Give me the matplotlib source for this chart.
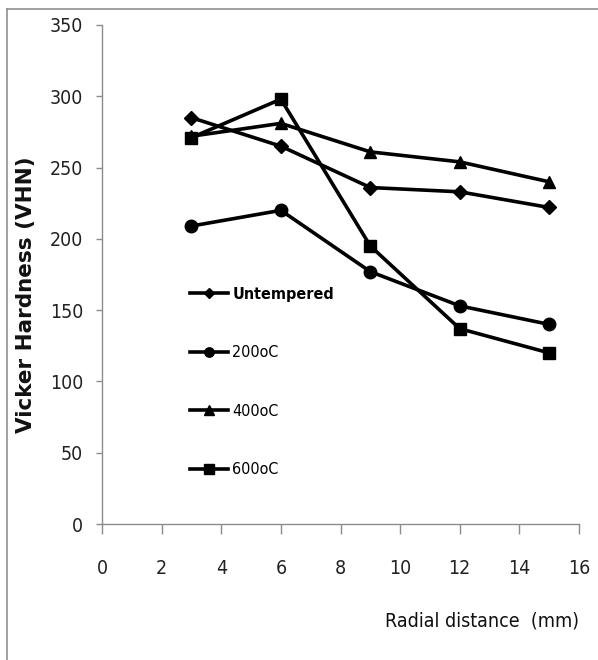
import matplotlib
matplotlib.use("Agg")
import matplotlib.pyplot as plt
from matplotlib.lines import Line2D

plt.rcParams['font.family'] = ['DejaVu Sans']
plt.rcParams['font.stretch'] = 'condensed'

radial_mm = [3, 6, 9, 12, 15]
untempered = [285, 265, 236, 233, 222]
temp_200 = [209, 220, 177, 153, 140]
temp_400 = [272, 281, 261, 254, 240]
temp_600 = [271, 298, 195, 137, 120]

series = [
    ("Untempered", untempered, "D"),
    ("200oC", temp_200, "o"),
    ("400oC", temp_400, "^"),
    ("600oC", temp_600, "s"),
]
marker_sizes = {"D": 7, "o": 9, "^": 9, "s": 9}

fig = plt.figure(figsize=(5.98, 6.6), dpi=100)
ax = fig.add_axes([102 / 598, 1 - 524 / 660, 477 / 598, 499 / 660])

for label, vals, mk in series:
    ax.plot(radial_mm, vals, color="black", lw=2.6, marker=mk,
            markersize=marker_sizes[mk], label=label, clip_on=False)

ax.set_xlim(0, 16)
ax.set_ylim(0, 350)
ax.set_xticks(range(0, 17, 2))
ax.set_yticks(range(0, 351, 50))

for side in ("top", "right"):
    ax.spines[side].set_visible(False)
for side in ("left", "bottom"):
    ax.spines[side].set_color("#8c8c8c")
    ax.spines[side].set_linewidth(1.0)
ax.tick_params(direction="out", width=1.0, color="#8c8c8c",
               labelsize=14, labelcolor="#222222")
ax.tick_params(axis="x", length=7, pad=18)
ax.tick_params(axis="y", length=4.5, pad=9)

fig.text(26 / 598, 1 - 295 / 660, "Vicker Hardness (VHN)", rotation=90,
         ha="center", va="center", fontsize=15.5, fontweight="bold",
         stretch="normal", color="#111111")
fig.text(579 / 598, 1 - 621 / 660, "Radial distance  (mm)", ha="right",
         va="center", fontsize=14, color="#111111")

leg = ax.legend(loc="upper left", bbox_to_anchor=(182 / 598, 1 - 279 / 660),
                bbox_transform=fig.transFigure, frameon=False, fontsize=11.5,
                handlelength=2.4, handletextpad=0.25, labelspacing=2.72,
                borderpad=0, markerscale=0.75)
leg.get_texts()[0].set_fontweight("bold")

# thin frame along the top and left edges of the image
fig.add_artist(Line2D([7 / 598, 1], [1 - 8.5 / 660, 1 - 8.5 / 660],
                      transform=fig.transFigure, color="#909090", lw=1.2))
fig.add_artist(Line2D([7 / 598, 7 / 598], [0, 1 - 8.5 / 660],
                      transform=fig.transFigure, color="#909090", lw=1.2))

fig.savefig("out.png", dpi=100)
